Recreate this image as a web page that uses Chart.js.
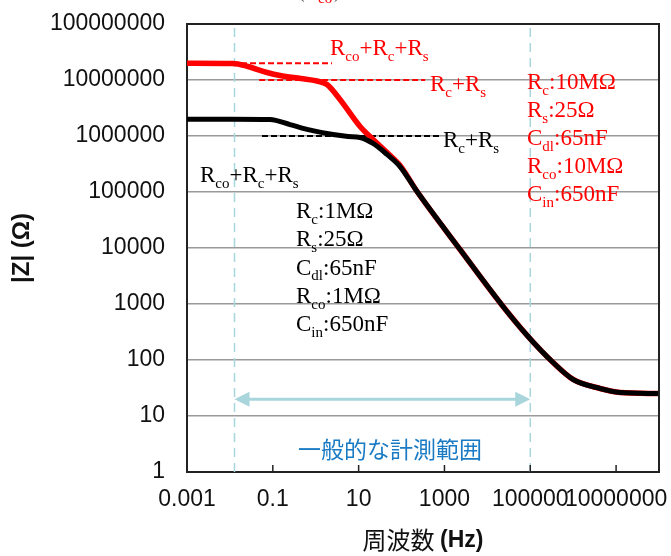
<!DOCTYPE html>
<html><head><meta charset="utf-8">
<script src="https://cdn.jsdelivr.net/npm/chart.js@4.4.1/dist/chart.umd.min.js"></script>
<style>html,body{margin:0;padding:0;background:#fff;}#wrap{width:671px;height:556px;position:relative;}</style>
</head><body><div id="wrap"><canvas id="c" width="671" height="556"></canvas></div>
<script>
// ---- data ----
const freqBlack = [0.001, 0.0118, 0.086, 0.252, 0.627, 2.53, 5.66, 10.8, 21.7, 45.9, 92.3, 230, 2310, 23200, 88900, 340000, 995000, 4240000, 12400000, 100000000];
const zBlack    = [2.0e6, 2.0e6, 1.97e6, 1.60e6, 1.31e6, 1.06e6, 9.8e5, 9.4e5, 7.35e5, 4.68e5, 2.85e5, 1.02e5, 9400, 902, 263, 90.2, 44.9, 31.0, 26.3, 25.2];
const freqRed   = [0.001, 0.0118, 0.025, 0.0733, 0.147, 0.45, 1.07, 1.83, 3.68, 10.8, 21.7, 45.9, 92.3, 230, 2310, 23200, 88900, 340000, 995000, 4240000, 12400000, 100000000];
const zRed      = [2.0e7, 1.97e7, 1.76e7, 1.36e7, 1.20e7, 1.06e7, 9.6e6, 8.3e6, 4.49e6, 1.48e6, 8.67e5, 5.07e5, 2.97e5, 1.02e5, 9400, 902, 263, 90.2, 44.9, 31.0, 26.3, 25.2];
// reference (asymptote) levels, with frequency extents
const redOuterRef = {z: 2.0e7, from: 0.001, to: 2.4};
const redInnerRef = {z: 1.0e7, from: 0.048, to: 355};
const blackRef    = {z: 1.0e6, from: 0.056, to: 800};
// typical measurement range
const rangeLow = 0.0128, rangeHigh = 100000, arrowLevel = 20;
const xTickValues = [0.001, 0.1, 10, 1000, 100000, 10000000];
const yTickValues = [1, 10, 100, 1000, 10000, 100000, 1000000, 10000000, 100000000];
const redParams = ['R_c:10MΩ', 'R_s:25Ω', 'C_dl:65nF', 'R_co:10MΩ', 'C_in:650nF'];
const blackParams = ['R_c:1MΩ', 'R_s:25Ω', 'C_dl:65nF', 'R_co:1MΩ', 'C_in:650nF'];

const pts = (fs, zs) => fs.map((f, i) => ({x: f, y: zs[i]}));
const hline = r => [{x: r.from, y: r.z}, {x: r.to, y: r.z}];
const vline = f => [{x: f, y: 1}, {x: f, y: 1e8}];
const RANGE_COL = '#a8d6dc';

function drawRich(ctx, x, y, str, color, size) {
  const parts = str.split(/_([a-z]+)/);
  let cx = x;
  ctx.fillStyle = color;
  ctx.textBaseline = 'alphabetic';
  ctx.textAlign = 'left';
  parts.forEach((t, i) => {
    const sub = i % 2 === 1;
    ctx.font = (sub ? Math.round(size * 0.66) : size) + 'px "Liberation Serif"';
    ctx.fillText(t, cx, sub ? y + size * 0.25 : y);
    cx += ctx.measureText(t).width;
  });
}

const annot = {
  id: 'annot',
  afterDraw(chart) {
    const {ctx, chartArea: a, scales: {x, y}} = chart;
    ctx.save();
    // frame top/right
    ctx.strokeStyle = '#222'; ctx.lineWidth = 2;
    ctx.beginPath();
    ctx.moveTo(a.left, a.top); ctx.lineTo(a.right, a.top); ctx.lineTo(a.right, a.bottom);
    ctx.stroke();
    // inward x tick marks
    ctx.lineWidth = 1.5;
    xTickValues.forEach(v => {
      const px = x.getPixelForValue(v);
      if (px > a.left + 2 && px < a.right - 2) {
        ctx.beginPath(); ctx.moveTo(px, a.bottom); ctx.lineTo(px, a.bottom - 7); ctx.stroke();
      }
    });
    // arrow heads
    const ay = y.getPixelForValue(arrowLevel);
    const xl = x.getPixelForValue(rangeLow), xr = x.getPixelForValue(rangeHigh);
    ctx.fillStyle = RANGE_COL;
    ctx.beginPath(); ctx.moveTo(xl, ay); ctx.lineTo(xl + 15, ay - 7.5); ctx.lineTo(xl + 15, ay + 7.5); ctx.closePath(); ctx.fill();
    ctx.beginPath(); ctx.moveTo(xr, ay); ctx.lineTo(xr - 15, ay - 7.5); ctx.lineTo(xr - 15, ay + 7.5); ctx.closePath(); ctx.fill();
    // range label
    ctx.fillStyle = '#1a7bc4';
    ctx.font = '23px "Noto Sans CJK JP"';
    ctx.textAlign = 'center'; ctx.textBaseline = 'middle';
    ctx.fillText('一般的な計測範囲', 390, 449);
    // annotations
    drawRich(ctx, 330, 55, 'R_co+R_c+R_s', '#ff0000', 23);
    drawRich(ctx, 430, 91, 'R_c+R_s', '#ff0000', 23);
    drawRich(ctx, 443, 147, 'R_c+R_s', '#000', 23);
    drawRich(ctx, 200, 182, 'R_co+R_c+R_s', '#000', 23);
    redParams.forEach((s, i) => drawRich(ctx, 527, 89 + i * 28.1, s, '#ff0000', 23));
    blackParams.forEach((s, i) => drawRich(ctx, 296, 218 + i * 28.3, s, '#000', 23));
    // clipped fragment at very top
    ctx.fillStyle = '#666'; ctx.font = '23px "Liberation Serif"'; ctx.textAlign = 'left'; ctx.textBaseline = 'alphabetic';
    ctx.fillText('(', 297, -3);
    ctx.fillText(')', 334, -3);
    ctx.fillStyle = '#ff0000'; ctx.font = '15px "Liberation Serif"';
    ctx.fillText('co', 318, 3);
    // x title
    ctx.textBaseline = 'middle';
    const t1 = '周波数 ';
    ctx.font = 'bold 23px "Liberation Sans"';
    const w2 = ctx.measureText('(Hz)').width;
    ctx.font = '24px "Noto Sans CJK JP"';
    const w1 = ctx.measureText(t1).width;
    const sx = (a.left + a.right) / 2 - (w1 + w2) / 2;
    ctx.fillStyle = '#111';
    ctx.fillText(t1, sx, 540);
    ctx.font = 'bold 23px "Liberation Sans"';
    ctx.fillText('(Hz)', sx + w1, 541);
    ctx.restore();
  }
};

new Chart(document.getElementById('c'), {
  type: 'line',
  data: {
    datasets: [
      {data: pts(freqBlack, zBlack), borderColor: '#000', borderWidth: 5, cubicInterpolationMode: 'monotone', pointRadius: 0},
      {data: pts(freqRed, zRed), borderColor: '#ff0000', borderWidth: 5.5, cubicInterpolationMode: 'monotone', pointRadius: 0},
      {data: hline(redOuterRef), borderColor: '#ff0000', borderWidth: 2, borderDash: [6, 3], pointRadius: 0},
      {data: hline(redInnerRef), borderColor: '#ff0000', borderWidth: 2, borderDash: [6, 3], pointRadius: 0},
      {data: hline(blackRef), borderColor: '#000', borderWidth: 2, borderDash: [6, 3], pointRadius: 0},
      {data: vline(rangeLow), borderColor: RANGE_COL, borderWidth: 1.5, borderDash: [9, 6], pointRadius: 0},
      {data: vline(rangeHigh), borderColor: RANGE_COL, borderWidth: 1.5, borderDash: [9, 6], pointRadius: 0},
      {data: [{x: rangeLow * 1.3, y: arrowLevel}, {x: rangeHigh * 0.8, y: arrowLevel}], borderColor: RANGE_COL, borderWidth: 3, pointRadius: 0}
    ]
  },
  options: {
    responsive: false, animation: false,
    layout: {padding: {top: 24, right: 12, left: 0, bottom: 0}},
    plugins: {legend: {display: false}, tooltip: {enabled: false}},
    scales: {
      x: {
        type: 'logarithmic', min: 0.001, max: 1e8,
        afterBuildTicks: s => { s.ticks = xTickValues.map(v => ({value: v})); },
        afterFit: s => { s.height = 84; s.paddingLeft = 0; s.paddingRight = 0; },
        ticks: {autoSkip: false, maxRotation: 0, minRotation: 0, padding: 14, color: '#111',
          font: {family: '"Liberation Sans"', size: 23}, callback: v => String(v)},
        grid: {display: false, drawTicks: false},
        border: {display: true, color: '#222', width: 2}
      },
      y: {
        type: 'logarithmic', min: 1, max: 1e8,
        afterBuildTicks: s => { s.ticks = yTickValues.map(v => ({value: v})); },
        afterFit: s => { s.width = 187; s.paddingTop = 0; s.paddingBottom = 0; },
        ticks: {autoSkip: false, padding: 22, color: '#111',
          font: {family: '"Liberation Sans"', size: 23}, callback: v => String(v)},
        grid: {color: '#9a9a9a', lineWidth: 1.5, drawTicks: false},
        border: {display: true, color: '#222', width: 2},
        title: {display: true, text: '|Z| (Ω)', color: '#111', padding: {top: 8, bottom: 0},
          font: {family: '"Liberation Sans"', size: 24, weight: 'bold'}}
      }
    }
  },
  plugins: [annot]
});
</script></body></html>
